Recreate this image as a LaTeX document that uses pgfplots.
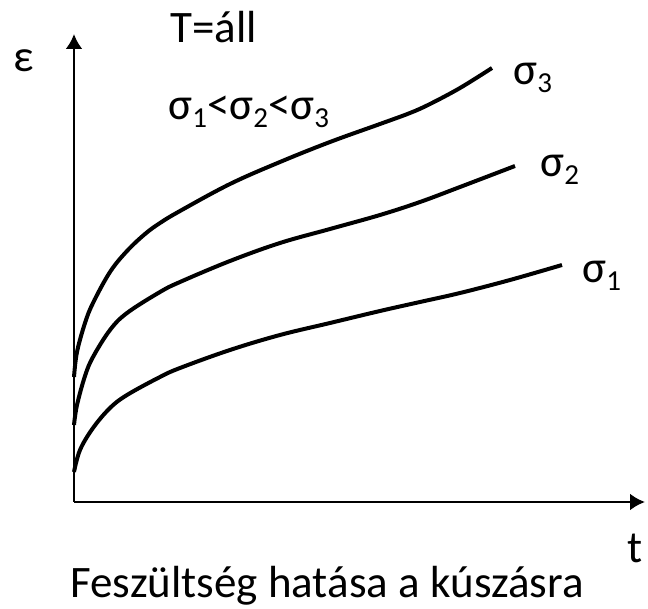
\documentclass[border=0pt]{standalone}
\usepackage{fontspec}
\setmainfont{Carlito}
\usepackage{pgfplots}
\pgfplotsset{compat=1.18}
\usetikzlibrary{arrows.meta}
\newcommand\sub[1]{\raisebox{-4pt}{\fontsize{14.5}{14.5}\selectfont #1}}
\tikzset{lbl/.style={anchor=base west, inner sep=0pt, font=\fontsize{22.5}{27}\selectfont}}
\begin{document}
\fontsize{22.5}{27}\selectfont
\begin{tikzpicture}
\begin{axis}[
  x=0.5pt, y=0.5pt,
  xmin=0, xmax=571, ymin=0, ymax=468,
  axis lines=left,
  axis line style={line width=1.3pt, -{Latex[length=7.5pt,width=8.5pt]}},
  xtick=\empty, ytick=\empty,
  clip=false,
]
\path (axis cs:-74,-107) rectangle (axis cs:574,502);
\addplot[black, line width=2pt, smooth, tension=0.6] coordinates {
(0,125) (3,150) (11,179) (19,199) (36,230) (53,251) (71,268) (86,279) (106,291) (156,318) (206,340) (256,360) (306,378) (336,389) (356,398) (386,414) (418,434)};
\addplot[black, line width=2pt, smooth, tension=0.6] coordinates {
(0,77) (3,97) (11,126) (19,145) (36,172) (53,189) (86,210) (106,220) (156,241) (206,259) (256,273) (306,287) (346,300) (386,315) (441,336)};
\addplot[black, line width=2pt, smooth, tension=0.6] coordinates {
(0,30) (6,52) (19,74) (36,94) (53,107) (86,125) (106,134) (156,152) (206,167) (256,179) (306,191) (346,200) (386,209) (436,222) (488,237)};
\node[lbl] at (axis cs:-61,430) {ε};
\node[lbl] at (axis cs:96,459) {T=áll};
\node[lbl] at (axis cs:94,382) {σ\sub{1}<σ\sub{2}<σ\sub{3}};
\node[lbl] at (axis cs:439,417) {σ\sub{3}};
\node[lbl] at (axis cs:466,325) {σ\sub{2}};
\node[lbl] at (axis cs:508,219) {σ\sub{1}};
\node[lbl] at (axis cs:553,-61) {t};
\node[lbl] at (axis cs:-4,-96) {Feszültség hatása a kúszásra};
\end{axis}
\end{tikzpicture}
\end{document}
